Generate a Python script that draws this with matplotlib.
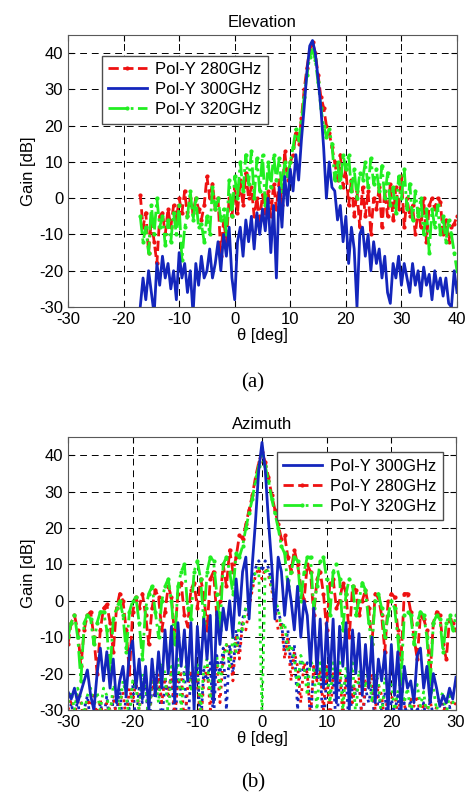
import numpy as np
import matplotlib.pyplot as plt

plt.rcParams['font.family'] = ['Liberation Sans', 'DejaVu Sans']
plt.rcParams['axes.unicode_minus'] = False

# measurement angles (deg), one sample every 0.5 deg
el_theta = np.arange(-17, 40.25, 0.5)
az_theta = np.arange(-30, 30.25, 0.5)

# ---- Elevation cut, gain in dB ----
el_280 = [1, -8, -4, -15, -6, -12, -18, -5, -4, -10,
          -3, -8, -2, -6, 0, -4, 2, -5, 0, -4,
          0, -3, -6, -2, 6, 0, 4, -3, 0, -16,
          -6, -12, 0, -5, 3, -4, 5, -2, 7, 0,
          3, -5, 0, -6, 1, -4, 2, -5, 4, -3,
          5, -2, 13, 5, 10, 12, 18, 15, 22, 30,
          36, 41, 43, 40, 34, 28, 25, 20, 18, 14,
          10, 5, 12, 3, 8, -2, 5, -5, 2, -8,
          3, -5, 2, -10, 0, -3, 3, -8, 2, -5,
          4, -6, 3, -3, 6, -8, 0, -5, -2, -10,
          -3, -8, 0, -12, -2, 0, -3, 0, -1, -10,
          -6, -12, -8, -7, -5]
el_320 = [-5, -12, -8, -15, -2, -10, 0, -8, -5, -13,
          -6, -12, -4, -10, -2, -17, -8, -5, 2, -6,
          0, -8, -7, -12, -5, -10, 3, -3, 0, -6,
          -3, -10, 5, -5, 6, 0, 10, 2, 12, 4,
          13, 0, 11, 2, 12, -2, 10, 3, 12, 5,
          11, 2, 10, 6, 10, 14, 19, 16, 21, 28,
          34, 39, 41, 38, 32, 25, 20, 17, 19, 15,
          5, 10, 3, 12, 8, 12, 2, 8, 0, 7,
          5, 10, 3, 11, 4, 8, 2, 9, 0, 7,
          -2, 3, -4, 6, 0, 8, -3, 4, -6, 2,
          -5, 0, -10, -3, -15, -3, -8, -2, -10, -5,
          -12, -6, -10, -15, -20]
el_300 = [-30, -22, -28, -20, -26, -32, -18, -24, -16, -22,
          -18, -25, -20, -28, -15, -22, -18, -26, -20, -32,
          -18, -24, -16, -22, -20, -14, -22, -18, -12, -20,
          -10, -16, -8, -22, -28, -12, -8, -16, -6, -12,
          -5, -14, -4, -10, -3, -9, 0, -15, -2, -22,
          3, -8, 6, -2, 8, 2, 12, 5, 16, 25,
          35, 42, 43.5, 40, 33, 25, 14, 0, 10, 3,
          2, -6, -2, -12, -5, -18, -8, -14, -30, -10,
          -8, -16, -10, -20, -12, -18, -14, -22, -16, -26,
          -29, -18, -22, -16, -24, -18, -22, -26, -18, -24,
          -20, -27, -19, -24, -21, -28, -20, -25, -22, -27,
          -22, -29, -30, -20, -26]

# ---- Azimuth cut, co-polar gain in dB ----
az_280 = [-12, -6, -4, -8, -18, -8, -4, -3, -10, -20,
          -8, -2, -1, -6, -14, -2, 2, 0, -8, -20,
          -3, 1, -2, 2, -4, -12, -2, 3, 1, -8,
          -3, 4, 1, -10, 2, 5, -4, -7, 3, 5,
          -2, 6, 2, -8, 6, 8, -4, 0, 10, 4,
          14, 8, 12, 18, 17, 21, 25, 29, 34, 38,
          41, 38, 34, 29, 25, 21, 17, 18, 12, 8,
          14, 10, 4, 0, 10, 8, -4, 6, 8, 2,
          -8, 5, 6, -2, 0, 5, 2, -10, 4, 3,
          -4, 0, 3, -2, -12, 2, 1, -4, -14, 0,
          2, 1, -8, -16, 2, 2, -3, -10, -16, -4,
          -5, -8, -20, -6, -3, -4, -12, -16, -5, -6,
          -8]
az_320 = [-10, -6, -4, -10, -22, -6, -4, -5, -12, -6,
          -3, -3, -8, -20, -5, -2, 0, -4, -14, -3,
          0, 1, -6, -16, -2, 2, 4, -3, -10, 0,
          4, 6, 0, -12, 4, 8, 10, -2, -5, 8,
          11, 6, -6, 8, 12, 11, 2, -8, 10, 12,
          8, 2, 13, 12, 15, 20, 24, 28, 33, 37,
          40, 37, 33, 28, 24, 20, 15, 13, 4, 8,
          12, 11, 0, 8, 12, 12, -2, 4, 11, 12,
          6, -4, 8, 10, 6, -8, 2, 6, 4, -4,
          0, 5, 3, -6, -12, 0, 2, -2, -10, -4,
          0, -2, -10, -22, -4, -3, -4, -12, -6, -3,
          -4, -10, -24, -6, -4, -5, -14, -6, -4, -8,
          -4]
az_300 = [-25, -27, -24, -28, -25, -22, -19, -26, -30, -20,
          -13, -22, -14, -24, -16, -28, -22, -18, -26, -14,
          -11, -24, -16, -27, -18, -30, -16, -26, -14, -24,
          -8, -20, -7, -28, -6, -18, -8, -22, -6, -30,
          -7, -20, -5, -16, -4, -28, -3, -12, -2, -8,
          0, -10, 6, -4, 8, 12, -5, 10, 22, 36,
          43.5, 36, 22, 10, -5, 12, 8, -4, 6, 0,
          -8, 4, -10, 0, -4, -18, -2, -20, -5, -24,
          -6, -22, -5, -28, -7, -18, -6, -30, -8, -20,
          -9, -26, -12, -24, -10, -28, -16, -22, -14, -30,
          -12, -26, -14, -30, -18, -24, -22, -28, -15, -13,
          -24, -18, -28, -20, -24, -29, -26, -28, -24, -27,
          -21]

# ---- Azimuth cut, cross-polar gain in dB (dotted) ----
xp_280 = [-30, -27, -32, -26, -28, -33, -27, -29, -26, -32,
          -27, -34, -28, -30, -26, -32, -28, -25, -33, -24,
          -28, -22, -30, -24, -21, -33, -22, -26, -20, -28,
          -21, -26, -19, -32, -22, -20, -35, -24, -19, -26,
          -20, -35, -22, -18, -30, -20, -17, -28, -16, -12,
          -14, -22, -10, -16, -6, -8, -2, 3, 7, 9,
          6, 9, 7, 3, -2, -8, -6, -16, -10, -22,
          -14, -18, -28, -17, -20, -32, -18, -22, -19, -30,
          -18, -34, -20, -22, -19, -32, -21, -20, -28, -22,
          -21, -33, -22, -24, -20, -30, -23, -26, -34, -24,
          -27, -25, -32, -26, -28, -34, -27, -29, -26, -32,
          -28, -30, -27, -33, -29, -27, -31, -28, -26, -29,
          -28]
xp_300 = [-35, -28, -33, -27, -35, -30, -26, -34, -29, -36,
          -28, -33, -26, -35, -27, -31, -24, -35, -26, -30,
          -23, -34, -24, -28, -22, -36, -23, -27, -21, -34,
          -22, -26, -20, -35, -21, -25, -19, -36, -20, -24,
          -18, -35, -19, -22, -17, -33, -15, -20, -13, -30,
          -12, -20, -8, -14, -5, -2, 0, 5, 9, 11,
          8, 11, 9, 5, 0, -3, -6, -14, -8, -18,
          -12, -30, -16, -20, -17, -34, -18, -22, -19, -36,
          -20, -26, -21, -35, -22, -25, -21, -36, -23, -26,
          -22, -34, -24, -28, -23, -35, -26, -30, -25, -36,
          -27, -31, -26, -35, -28, -32, -27, -36, -29, -33,
          -28, -35, -27, -32, -30, -36, -28, -31, -29, -35,
          -30]
xp_320 = [-28, -25, -30, -24, -27, -31, -26, -24, -29, -25,
          -30, -24, -26, -32, -23, -25, -30, -22, -26, -33,
          -22, -24, -30, -20, -23, -34, -19, -21, -28, -17,
          -20, -32, -18, -22, -16, -30, -19, -17, -25, -20,
          -17, -30, -19, -16, -27, -18, -15, -24, -15, -12,
          -18, -10, -14, -6, -8, -2, 0, 4, 8, 9,
          -32, 9, 8, 4, 0, -2, -8, -6, -14, -12,
          -16, -24, -15, -18, -26, -16, -19, -30, -17, -21,
          -18, -28, -17, -20, -16, -30, -18, -22, -17, -32,
          -19, -21, -24, -18, -28, -20, -22, -33, -21, -24,
          -23, -30, -25, -22, -28, -24, -31, -26, -23, -29,
          -25, -32, -26, -24, -30, -27, -25, -31, -26, -28,
          -27]

red = '#ee1111'
blue = '#1426bc'
green = '#22ee22'

fig = plt.figure(figsize=(4.66, 7.97), dpi=100)
ax1 = fig.add_axes([68 / 466, 1 - 307 / 797, 389 / 466, 272 / 797])
ax2 = fig.add_axes([68 / 466, 1 - 710 / 797, 388 / 466, 273 / 797])

l280, = ax1.plot(el_theta, el_280, '--', color=red, lw=2, marker='.', ms=4,
                 label='Pol-Y 280GHz')
l320, = ax1.plot(el_theta, el_320, '-.', color=green, lw=2, marker='.', ms=4,
                 label='Pol-Y 320GHz')
l300, = ax1.plot(el_theta, el_300, '-', color=blue, lw=2, label='Pol-Y 300GHz')
ax1.set_xlim(-30, 40)
ax1.legend(handles=[l280, l300, l320], loc='upper left',
           bbox_to_anchor=(0.065, 0.955), fontsize=12, fancybox=False,
           edgecolor='0.3', framealpha=1, handlelength=2.3, borderpad=0.4,
           labelspacing=0.3, handletextpad=0.5)
ax1.set_title('Elevation', fontsize=12, pad=6)

ax2.plot(az_theta, xp_300, ':', color=blue, lw=2)
ax2.plot(az_theta, xp_280, ':', color=red, lw=2)
ax2.plot(az_theta, xp_320, ':', color=green, lw=2)
a280, = ax2.plot(az_theta, az_280, '--', color=red, lw=2, marker='.', ms=4,
                 label='Pol-Y 280GHz')
a320, = ax2.plot(az_theta, az_320, '-.', color=green, lw=2, marker='.', ms=4,
                 label='Pol-Y 320GHz')
a300, = ax2.plot(az_theta, az_300, '-', color=blue, lw=2, label='Pol-Y 300GHz')
ax2.set_xlim(-30, 30)
ax2.legend(handles=[a300, a280, a320], loc='upper right',
           bbox_to_anchor=(0.988, 0.975), fontsize=12, fancybox=False,
           edgecolor='0.3', framealpha=1, handlelength=2.3, borderpad=0.4,
           labelspacing=0.3, handletextpad=0.5)
ax2.set_title('Azimuth', fontsize=12, pad=6)

for ax in (ax1, ax2):
    ax.set_ylim(-30, 45)
    ax.set_yticks(range(-30, 41, 10))
    ax.grid(True, color='black', linestyle=(0, (7, 5)), linewidth=0.7)
    ax.tick_params(direction='in', labelsize=12, length=4, top=True, right=True)
    ax.set_ylabel('Gain [dB]', fontsize=12, labelpad=2)
    ax.set_xlabel('θ [deg]', fontsize=12, labelpad=1)
    for s in ax.spines.values():
        s.set_color('0.35')

fig.text(0.543, 1 - 383 / 797, '(a)', ha='center', va='center',
         family='Liberation Serif', fontsize=15)
fig.text(0.543, 1 - 783 / 797, '(b)', ha='center', va='center',
         family='Liberation Serif', fontsize=15)

fig.savefig('out.png', dpi=100)
